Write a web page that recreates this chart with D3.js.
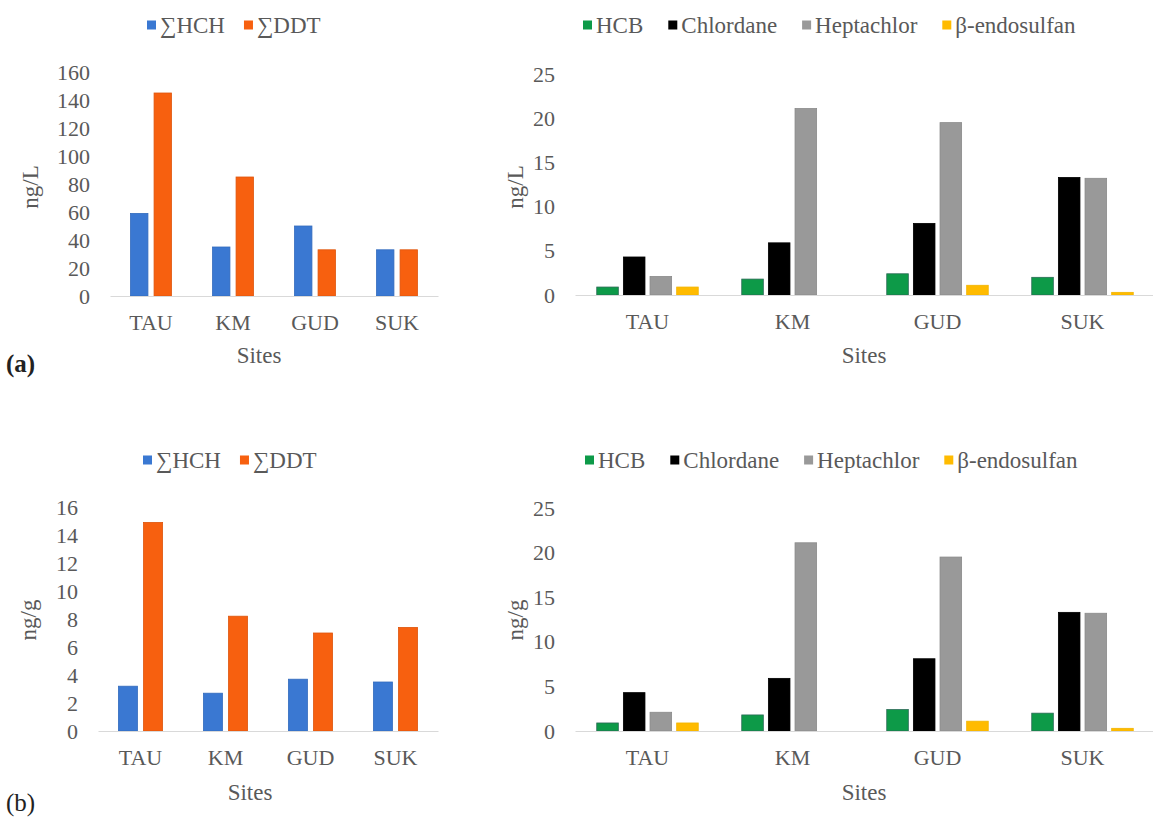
<!DOCTYPE html>
<html>
<head>
<meta charset="utf-8">
<style>
    body { margin: 0; background: #fff; }
    svg { display: block; font-family: 'Liberation Serif', 'Times New Roman', serif; }
    .tick text { fill: #595959; }
</style>
</head>
<body>
<svg width="1153" height="818"></svg>

<script src="https://d3js.org/d3.v7.min.js"></script>
<script>
    // data
    const sites = ["TAU", "KM", "GUD", "SUK"];

    const sumSeries = ["∑HCH", "∑DDT"];
    const otherSeries = ["HCB", "Chlordane", "Heptachlor", "β-endosulfan"];

    // (a) water, ng/L
    const waterHCH = [59, 35, 50, 33];
    const waterDDT = [145, 85, 33, 33];
    // (b) sediment, ng/g
    const sedHCH = [3.2, 2.7, 3.7, 3.5];
    const sedDDT = [14.9, 8.2, 7.0, 7.4];

    // other OCPs (same in both panels of the figure)
    const hcb = [0.9, 1.8, 2.4, 2.0];
    const chlordane = [4.3, 5.9, 8.1, 13.3];
    const heptachlor = [2.1, 21.1, 19.5, 13.2];
    const endosulfan = [0.9, 0, 1.1, 0.3];

    const sumColors = ["#3a78d2", "#f7600f"];
    const otherColors = ["#0d9a48", "#000000", "#999999", "#ffbb00"];
    const strokeColors = ["#2a6a55", "#000000", "#8a8a8a", "#f2b400"];

    let svg = d3.select("svg");

    function panel(cfg) {
        let g = svg.append("g");

        let x = d3.scaleBand()
            .domain(sites)
            .range([cfg.x0, cfg.x1])
            .paddingInner(cfg.pad)
            .paddingOuter(cfg.pad / 2);

        let xs = d3.scaleBand()
            .domain(cfg.series)
            .range([0, x.bandwidth()])
            .paddingInner(cfg.innerPad);

        let y = d3.scaleLinear()
            .domain([0, cfg.ymax])
            .range([cfg.y0, cfg.yTop]);

        // y axis (labels only)
        let yAxis = g.append("g")
            .attr("transform", `translate(${cfg.x0},0)`)
            .call(d3.axisLeft(y).tickValues(d3.range(0, cfg.ymax + 0.001, cfg.step)).tickSize(0).tickPadding(20))
            .attr("font-family", null)
            .attr("font-size", null)
        yAxis.select(".domain").remove()
        yAxis.selectAll("text").style("font-size", "22px")

        // bars
        let rows = sites.map((s, i) => ({ site: s, values: cfg.values.map(v => v[i]) }));

        g.append("g")
            .selectAll("g")
            .data(rows)
            .join("g")
            .attr("transform", d => `translate(${x(d.site)},0)`)
            .selectAll("rect")
            .data(d => d.values.map((v, j) => ({ key: cfg.series[j], v: v, j: j })))
            .join("rect")
            .attr("x", d => xs(d.key))
            .attr("width", xs.bandwidth())
            .attr("y", d => y(d.v))
            .attr("height", d => cfg.y0 - y(d.v))
            .attr("fill", d => cfg.colors[d.j])
            .attr("stroke", d => cfg.strokes ? cfg.strokes[d.j] : d3.color(cfg.colors[d.j]).darker(0.3))
            .attr("stroke-width", 0.8)

        // x axis
        let xAxis = g.append("g")
            .attr("transform", `translate(0,${cfg.y0})`)
            .call(d3.axisBottom(x).tickSize(0).tickSizeOuter(0).tickPadding(18))
            .attr("font-family", null)
            .attr("font-size", null)
        xAxis.select(".domain").attr("stroke", "#d9d9d9").attr("stroke-width", 1.2)
        xAxis.selectAll("text").style("font-size", "22px")

        // axis titles
        g.append("text")
            .attr("x", cfg.titleX)
            .attr("y", cfg.titleY)
            .attr("text-anchor", "middle")
            .attr("dominant-baseline", "central")
            .style("font-size", "23px")
            .style("fill", "#595959")
            .text("Sites")

        g.append("text")
            .attr("transform", `translate(${cfg.ylabX},${cfg.ylabY}) rotate(-90)`)
            .attr("text-anchor", "middle")
            .attr("dominant-baseline", "central")
            .style("font-size", "23px")
            .style("fill", "#595959")
            .text(cfg.unit)

        // legend
        let lx = cfg.legX;
        cfg.series.forEach((name, j) => {
            g.append("rect")
                .attr("x", lx)
                .attr("y", cfg.legY - 4.5)
                .attr("width", 9)
                .attr("height", 9)
                .attr("fill", cfg.colors[j])
            let t = g.append("text")
                .attr("x", lx + 13)
                .attr("y", cfg.legY)
                .attr("dominant-baseline", "central")
                .style("font-size", "23px")
                .style("fill", "#595959")
                .text(name)
            lx += 13 + t.node().getComputedTextLength() + cfg.legGap;
        })
    }

    panel({ x0: 110, x1: 438, y0: 296, yTop: 72, ymax: 160, step: 20, pad: 0.5, innerPad: 0.26,
        series: sumSeries, values: [waterHCH, waterDDT], colors: sumColors, unit: "ng/L",
        titleX: 259, titleY: 355, ylabX: 30, ylabY: 187, legX: 147, legY: 25, legGap: 19 });

    panel({ x0: 575, x1: 1155, y0: 295, yTop: 74, ymax: 25, step: 5, pad: 0.3, innerPad: 0.19,
        series: otherSeries, values: [hcb, chlordane, heptachlor, endosulfan], colors: otherColors, strokes: strokeColors, unit: "ng/L",
        titleX: 864, titleY: 355, ylabX: 515, ylabY: 187, legX: 583, legY: 25, legGap: 25 });

    panel({ x0: 98, x1: 438, y0: 731, yTop: 507, ymax: 16, step: 2, pad: 0.48, innerPad: 0.24,
        series: sumSeries, values: [sedHCH, sedDDT], colors: sumColors, unit: "ng/g",
        titleX: 250, titleY: 792, ylabX: 28, ylabY: 620, legX: 143, legY: 460, legGap: 19 });

    panel({ x0: 575, x1: 1155, y0: 731, yTop: 508, ymax: 25, step: 5, pad: 0.3, innerPad: 0.19,
        series: otherSeries, values: [hcb, chlordane, heptachlor, endosulfan], colors: otherColors, strokes: strokeColors, unit: "ng/g",
        titleX: 864, titleY: 792, ylabX: 515, ylabY: 620, legX: 585, legY: 460, legGap: 25 });

    // panel letters
    svg.append("text").attr("x", 6).attr("y", 363).attr("dominant-baseline", "central")
        .style("font-size", "25px").style("font-weight", "bold").style("fill", "#222").text("(a)")
    svg.append("text").attr("x", 6).attr("y", 802).attr("dominant-baseline", "central")
        .style("font-size", "25px").style("fill", "#222").text("(b)")
</script>
</body>
</html>
